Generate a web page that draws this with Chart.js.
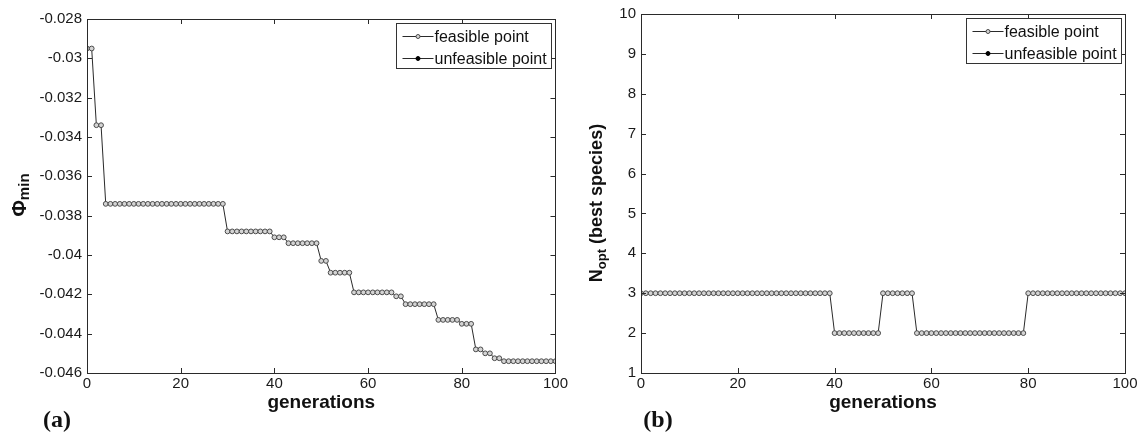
<!DOCTYPE html>
<html>
<head>
<meta charset="utf-8">
<title>Best individual vs generations</title>
<script src="https://cdn.jsdelivr.net/npm/chart.js@4.4.0/dist/chart.umd.min.js"></script>
<style>
  html, body { margin: 0; padding: 0; background: #fff; }
  #wrap { position: relative; width: 1143px; height: 436px; overflow: hidden; }
  #wrap canvas { position: absolute; top: 0; }
  #chart-a { left: 0; }
  #chart-b { left: 570px; }
</style>
</head>
<body>
<div id="wrap">
  <canvas id="chart-a" width="570" height="436"></canvas>
  <canvas id="chart-b" width="573" height="436"></canvas>
</div>
<script>
// x values (generation number)
var generations = [
  0, 1, 2, 3, 4, 5, 6, 7, 8, 9,
  10, 11, 12, 13, 14, 15, 16, 17, 18, 19,
  20, 21, 22, 23, 24, 25, 26, 27, 28, 29,
  30, 31, 32, 33, 34, 35, 36, 37, 38, 39,
  40, 41, 42, 43, 44, 45, 46, 47, 48, 49,
  50, 51, 52, 53, 54, 55, 56, 57, 58, 59,
  60, 61, 62, 63, 64, 65, 66, 67, 68, 69,
  70, 71, 72, 73, 74, 75, 76, 77, 78, 79,
  80, 81, 82, 83, 84, 85, 86, 87, 88, 89,
  90, 91, 92, 93, 94, 95, 96, 97, 98, 99,
  100
];

// (a) best objective value per generation
var phiMin = [
  -0.0295, -0.0295, -0.0334, -0.0334, -0.0374, -0.0374, -0.0374, -0.0374, -0.0374, -0.0374,
  -0.0374, -0.0374, -0.0374, -0.0374, -0.0374, -0.0374, -0.0374, -0.0374, -0.0374, -0.0374,
  -0.0374, -0.0374, -0.0374, -0.0374, -0.0374, -0.0374, -0.0374, -0.0374, -0.0374, -0.0374,
  -0.0388, -0.0388, -0.0388, -0.0388, -0.0388, -0.0388, -0.0388, -0.0388, -0.0388, -0.0388,
  -0.0391, -0.0391, -0.0391, -0.0394, -0.0394, -0.0394, -0.0394, -0.0394, -0.0394, -0.0394,
  -0.0403, -0.0403, -0.0409, -0.0409, -0.0409, -0.0409, -0.0409, -0.0419, -0.0419, -0.0419,
  -0.0419, -0.0419, -0.0419, -0.0419, -0.0419, -0.0419, -0.0421, -0.0421, -0.0425, -0.0425,
  -0.0425, -0.0425, -0.0425, -0.0425, -0.0425, -0.0433, -0.0433, -0.0433, -0.0433, -0.0433,
  -0.0435, -0.0435, -0.0435, -0.0448, -0.0448, -0.0450, -0.0450, -0.04525, -0.04525, -0.0454,
  -0.0454, -0.0454, -0.0454, -0.0454, -0.0454, -0.0454, -0.0454, -0.0454, -0.0454, -0.0454,
  -0.0454
];

// (b) number of species in best individual
var nOpt = [
  3, 3, 3, 3, 3, 3, 3, 3, 3, 3,
  3, 3, 3, 3, 3, 3, 3, 3, 3, 3,
  3, 3, 3, 3, 3, 3, 3, 3, 3, 3,
  3, 3, 3, 3, 3, 3, 3, 3, 3, 3,
  2, 2, 2, 2, 2, 2, 2, 2, 2, 2,
  3, 3, 3, 3, 3, 3, 3, 2, 2, 2,
  2, 2, 2, 2, 2, 2, 2, 2, 2, 2,
  2, 2, 2, 2, 2, 2, 2, 2, 2, 2,
  3, 3, 3, 3, 3, 3, 3, 3, 3, 3,
  3, 3, 3, 3, 3, 3, 3, 3, 3, 3,
  3
];

// tick values
var genTicks = [0, 20, 40, 60, 80, 100];
var phiTicks = [-0.046, -0.044, -0.042, -0.04, -0.038, -0.036, -0.034, -0.032, -0.03, -0.028];
var nTicks = [1, 2, 3, 4, 5, 6, 7, 8, 9, 10];

var seriesNames = ['feasible point', 'unfeasible point'];

var SANS = 'Arial, "Liberation Sans", sans-serif';
var SERIF = '"Times New Roman", "Liberation Serif", serif';

function toPoints(ys) {
  return ys.map(function(v, i) { return { x: generations[i], y: v }; });
}

function fixedTicks(values) {
  return function(scale) {
    scale.ticks = values.map(function(v) { return { value: v }; });
  };
}

// MATLAB-like box with inward ticks on all four sides
var matlabFrame = {
  id: 'matlabFrame',
  afterDraw: function(chart) {
    var ctx = chart.ctx, a = chart.chartArea;
    var xs = chart.scales.x, ys = chart.scales.y;
    var len = 5;
    ctx.save();
    ctx.strokeStyle = '#2a2a2a';
    ctx.lineWidth = 1;
    ctx.beginPath();
    xs.ticks.forEach(function(t) {
      var px = Math.round(xs.getPixelForValue(t.value)) + 0.5;
      ctx.moveTo(px, a.bottom); ctx.lineTo(px, a.bottom - len);
      ctx.moveTo(px, a.top); ctx.lineTo(px, a.top + len);
    });
    ys.ticks.forEach(function(t) {
      var py = Math.round(ys.getPixelForValue(t.value)) + 0.5;
      ctx.moveTo(a.left, py); ctx.lineTo(a.left + len, py);
      ctx.moveTo(a.right, py); ctx.lineTo(a.right - len, py);
    });
    ctx.stroke();
    ctx.strokeRect(Math.round(a.left) + 0.5, Math.round(a.top) + 0.5,
                   Math.round(a.right - a.left), Math.round(a.bottom - a.top));
    ctx.restore();
  }
};

// boxed legend in the top right corner of the plot
var boxLegend = {
  id: 'boxLegend',
  afterDraw: function(chart) {
    var ctx = chart.ctx, a = chart.chartArea;
    var w = 155, h = 45;
    var bx = Math.round(a.right - 4 - w) + 0.5;
    var by = Math.round(a.top + 4) + 0.5;
    ctx.save();
    ctx.fillStyle = '#fff';
    ctx.fillRect(bx, by, w, h);
    ctx.strokeStyle = '#333';
    ctx.lineWidth = 1;
    ctx.strokeRect(bx, by, w, h);
    chart.data.datasets.forEach(function(ds, i) {
      var ry = Math.round(by + 12 + i * 22) + 0.5;
      ctx.strokeStyle = ds.borderColor;
      ctx.beginPath();
      ctx.moveTo(bx + 6, ry); ctx.lineTo(bx + 37, ry);
      ctx.stroke();
      ctx.beginPath();
      ctx.arc(bx + 21.5, ry, 2, 0, Math.PI * 2);
      ctx.fillStyle = ds.pointBackgroundColor;
      ctx.fill();
      ctx.strokeStyle = ds.pointBorderColor;
      ctx.stroke();
      ctx.fillStyle = '#111';
      ctx.font = '16px ' + SANS;
      ctx.textAlign = 'left';
      ctx.textBaseline = 'middle';
      ctx.fillText(ds.label, bx + 38, ry + 1);
    });
    ctx.restore();
  }
};

function drawRich(ctx, parts, cx, cy, rotate) {
  ctx.save();
  ctx.translate(cx, cy);
  if (rotate) ctx.rotate(-Math.PI / 2);
  var total = 0;
  parts.forEach(function(p) {
    ctx.font = p.font;
    p.w = ctx.measureText(p.text).width;
    total += p.w;
  });
  var x = -total / 2;
  ctx.fillStyle = '#111';
  ctx.textAlign = 'left';
  ctx.textBaseline = 'middle';
  parts.forEach(function(p) {
    ctx.font = p.font;
    ctx.fillText(p.text, x, p.dy || 0);
    x += p.w;
  });
  ctx.restore();
}

// axis titles with subscripts and the panel letter
function figureText(cfg) {
  return {
    id: 'figureText',
    afterDraw: function(chart) {
      var ctx = chart.ctx, a = chart.chartArea;
      drawRich(ctx, cfg.yTitle, cfg.yTitleX, cfg.yTitleY, true);
      drawRich(ctx, [{ text: 'generations', font: 'bold 19px ' + SANS }], (a.left + a.right) / 2, 403, false);
      drawRich(ctx, [{ text: cfg.panel, font: 'bold 24px ' + SERIF }], cfg.panelX, 421, false);
    }
  };
}

function makeDatasets(values) {
  return [
    {
      label: seriesNames[0],
      data: toPoints(values),
      borderColor: '#2a2a2a',
      borderWidth: 1,
      tension: 0,
      pointRadius: 2.4,
      pointBorderWidth: 1,
      pointBorderColor: '#4a4a4a',
      pointBackgroundColor: '#d4d4d4'
    },
    {
      label: seriesNames[1],
      data: [],
      borderColor: '#2a2a2a',
      borderWidth: 1,
      pointRadius: 2.4,
      pointBorderColor: '#000',
      pointBackgroundColor: '#000'
    }
  ];
}

function makeOptions(opts) {
  return {
    responsive: false,
    animation: false,
    layout: { padding: { top: opts.top, right: opts.right, left: 0, bottom: 0 } },
    plugins: { legend: { display: false }, tooltip: { enabled: false } },
    scales: {
      x: {
        type: 'linear',
        min: 0,
        max: 100,
        afterBuildTicks: fixedTicks(genTicks),
        afterFit: function(scale) { scale.height = 436 - opts.bottom; },
        grid: { display: false, drawTicks: false },
        border: { display: false },
        ticks: { padding: 2, color: '#1a1a1a', font: { family: SANS, size: 15 } }
      },
      y: {
        type: 'linear',
        min: opts.yTicks[0],
        max: opts.yTicks[opts.yTicks.length - 1],
        afterBuildTicks: fixedTicks(opts.yTicks),
        afterFit: function(scale) { scale.width = opts.left; },
        grid: { display: false, drawTicks: false },
        border: { display: false },
        ticks: {
          padding: 5,
          color: '#1a1a1a',
          font: { family: SANS, size: 15 },
          callback: function(v) { return String(Number(v.toFixed(3))); }
        }
      }
    }
  };
}

document.addEventListener('DOMContentLoaded', function() {
  new Chart(document.getElementById('chart-a'), {
    type: 'line',
    data: { datasets: makeDatasets(phiMin) },
    options: makeOptions({ top: 19, right: 12, left: 87, bottom: 373, yTicks: phiTicks }),
    plugins: [matlabFrame, boxLegend, figureText({
      yTitle: [
        { text: 'Φ', font: 'bold 20px ' + SANS },
        { text: 'min', font: 'bold 15px ' + SANS, dy: 5 }
      ],
      yTitleX: 20, yTitleY: 195,
      panel: '(a)', panelX: 57
    })]
  });

  new Chart(document.getElementById('chart-b'), {
    type: 'line',
    data: { datasets: makeDatasets(nOpt) },
    options: makeOptions({ top: 14, right: 18, left: 71, bottom: 373, yTicks: nTicks }),
    plugins: [matlabFrame, boxLegend, figureText({
      yTitle: [
        { text: 'N', font: 'bold 18px ' + SANS },
        { text: 'opt', font: 'bold 13px ' + SANS, dy: 5 },
        { text: ' (best species)', font: 'bold 18px ' + SANS }
      ],
      yTitleX: 27, yTitleY: 203,
      panel: '(b)', panelX: 88
    })]
  });
});
</script>
</body>
</html>
